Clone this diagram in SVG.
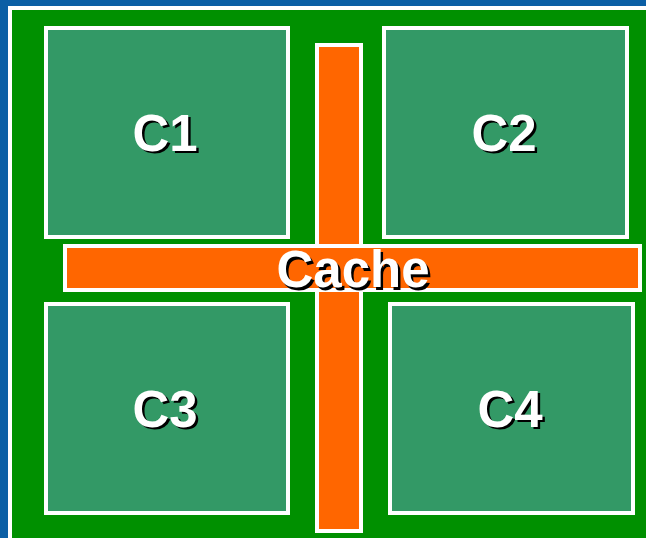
<svg xmlns="http://www.w3.org/2000/svg" width="646" height="538" viewBox="0 0 646 538">
<style>
.core{fill:#339966;stroke:#fff;stroke-width:4}
.bus{fill:#ff6600;stroke:#fff;stroke-width:4}
.lbl{font-family:"Liberation Sans",Arial,sans-serif;font-weight:bold;font-size:51px;text-anchor:middle}
.sh{fill:#000}
.fg{fill:#fff}
</style>
<rect x="0" y="0" width="646" height="538" fill="#0b5fa5"/>
<rect x="10" y="8" width="640" height="534" fill="#009000" stroke="#fff" stroke-width="4"/>
<g id="bus">
<rect class="bus" x="317" y="45" width="44" height="486"/>
<rect class="bus" x="65" y="246" width="575" height="44"/>
<text class="lbl sh" x="355.5" y="289.5" font-size="52">Cache</text>
<text class="lbl fg" x="353" y="287" font-size="52">Cache</text>
</g>
<g id="c1">
<rect class="core" x="46" y="28" width="242" height="209"/>
<text class="lbl sh" x="167.5" y="153">C1</text>
<text class="lbl fg" x="165" y="150.5">C1</text>
</g>
<g id="c2">
<rect class="core" x="384" y="28" width="243" height="209"/>
<text class="lbl sh" x="506.5" y="153">C2</text>
<text class="lbl fg" x="504" y="150.5">C2</text>
</g>
<g id="c3">
<rect class="core" x="46" y="304" width="242" height="209"/>
<text class="lbl sh" x="167.5" y="429">C3</text>
<text class="lbl fg" x="165" y="426.5">C3</text>
</g>
<g id="c4">
<rect class="core" x="390" y="304" width="243" height="209"/>
<text class="lbl sh" x="512.5" y="429">C4</text>
<text class="lbl fg" x="510" y="426.5">C4</text>
</g>
</svg>
